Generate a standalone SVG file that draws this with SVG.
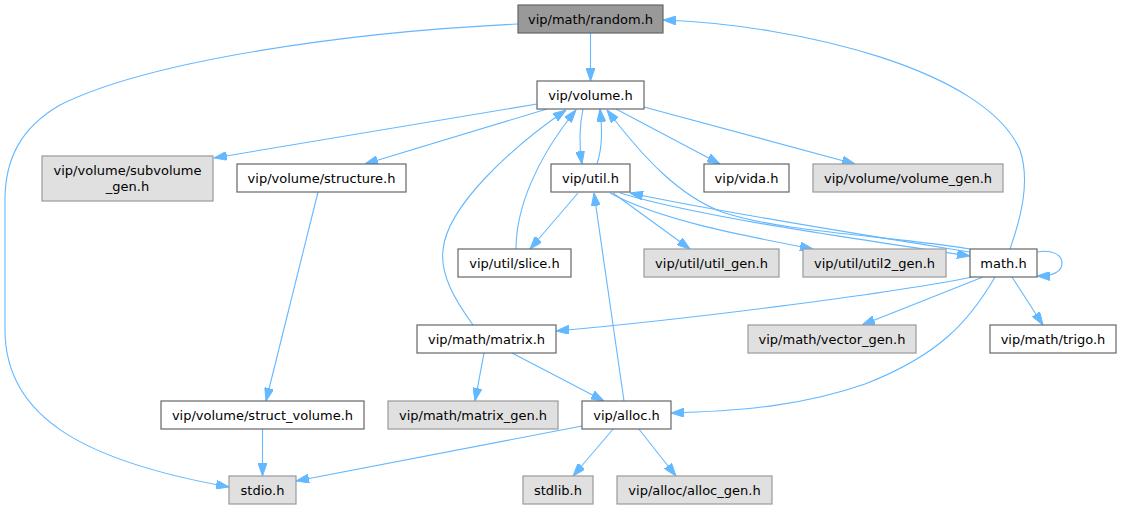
<svg xmlns="http://www.w3.org/2000/svg" width="1121" height="509" viewBox="0 0 1121 509">
<style>
.e{fill:none;stroke:#63b8ff;stroke-width:1.1;marker-end:url(#a)}
.w{fill:#ffffff;stroke:#666666;stroke-width:1.2}
.g{fill:#e0e0e0;stroke:#999999;stroke-width:1.2}
.c{fill:#999999;stroke:#666666;stroke-width:1.2}
text{font-family:"DejaVu Sans","Liberation Sans",sans-serif;font-size:13px;fill:#000000;text-anchor:middle}
</style>
<defs>
<marker id="a" viewBox="0 0 13 9" refX="13" refY="4.5" markerWidth="13" markerHeight="9" orient="auto" markerUnits="userSpaceOnUse">
<path d="M0,0 L13,4.5 L0,9 Z" fill="#63b8ff" stroke="#63b8ff" stroke-width="1"/>
</marker>
</defs>
<rect width="1121" height="509" fill="#ffffff"/>
<g id="edges">
<path class="e" d="M590.5,33 L590.5,81"/>
<path class="e" d="M518,24 C350,32 150,60 60,105 C20,128 5,160 5,200 L5,330 C5,420 90,462 229,487"/>
<path class="e" d="M1010,249 C1022,215 1030,180 1020,150 C985,70 800,25 663,20"/>
<path class="e" d="M537,104 L214,158"/>
<path class="e" d="M547,109 L365,164"/>
<path class="e" d="M583,109 C579,128 579,145 582,164"/>
<path class="e" d="M597,164 C603,145 602,128 600,109"/>
<path class="e" d="M616,109 L720,164"/>
<path class="e" d="M644,107 L855,164"/>
<path class="e" d="M578,193 L530,249"/>
<path class="e" d="M516,249 C516,210 535,160 576,110"/>
<path class="e" d="M473,325 C455,300 440,275 443,250 C447,205 515,145 566,110"/>
<path class="e" d="M970,249 C900,237 780,232 722,212 C680,196 645,160 607,110"/>
<path class="e" d="M613,193 L690,249"/>
<path class="e" d="M610,193 C660,220 740,235 813,249"/>
<path class="e" d="M620,193 C700,217 850,238 970,256"/>
<path class="e" d="M970,252 C870,236 730,214 630,193"/>
<path class="e" d="M1037,252 C1052,249 1062,255 1062,263 C1062,272 1052,276 1037,276"/>
<path class="e" d="M972,277 C900,292 700,318 556,331"/>
<path class="e" d="M983,277 L862,325"/>
<path class="e" d="M1012,277 L1043,325"/>
<path class="e" d="M995,277 C970,320 940,355 865,384 C805,405 745,411 671,413"/>
<path class="e" d="M484,353 L475,401"/>
<path class="e" d="M512,353 L604,401"/>
<path class="e" d="M624,401 L594,193"/>
<path class="e" d="M582,426 L296,481"/>
<path class="e" d="M614,428 L573,476"/>
<path class="e" d="M638,428 L676,476"/>
<path class="e" d="M318,192 L266,401"/>
<path class="e" d="M262.5,428 L262.5,476"/>
</g>
<g id="node-random"><rect class="c" x="518" y="5" width="145" height="28"/><text x="590.5" y="23.5">vip/math/random.h</text></g>
<g id="node-volume"><rect class="w" x="537" y="81" width="107" height="28"/><text x="590.5" y="99.5">vip/volume.h</text></g>
<g id="node-subvolume"><rect class="g" x="42" y="156" width="171" height="45"/><text x="127.5" y="175">vip/volume/subvolume</text><text x="127.5" y="191">_gen.h</text></g>
<g id="node-structure"><rect class="w" x="237" y="164" width="169" height="28"/><text x="321.5" y="182.5">vip/volume/structure.h</text></g>
<g id="node-util"><rect class="w" x="551" y="164" width="79" height="28"/><text x="590.5" y="182.5">vip/util.h</text></g>
<g id="node-vida"><rect class="w" x="704" y="164" width="85" height="28"/><text x="746.5" y="182.5">vip/vida.h</text></g>
<g id="node-volume-gen"><rect class="g" x="813" y="164" width="190" height="28"/><text x="908" y="182.5">vip/volume/volume_gen.h</text></g>
<g id="node-slice"><rect class="w" x="458" y="249" width="113" height="28"/><text x="514.5" y="267.5">vip/util/slice.h</text></g>
<g id="node-util-gen"><rect class="g" x="644" y="249" width="135" height="28"/><text x="711.5" y="267.5">vip/util/util_gen.h</text></g>
<g id="node-util2-gen"><rect class="g" x="803" y="249" width="143" height="28"/><text x="874.5" y="267.5">vip/util/util2_gen.h</text></g>
<g id="node-math"><rect class="w" x="970" y="249" width="67" height="28"/><text x="1003.5" y="267.5">math.h</text></g>
<g id="node-matrix"><rect class="w" x="417" y="325" width="139" height="28"/><text x="486.5" y="343.5">vip/math/matrix.h</text></g>
<g id="node-vector-gen"><rect class="g" x="748" y="325" width="168" height="28"/><text x="832" y="343.5">vip/math/vector_gen.h</text></g>
<g id="node-trigo"><rect class="w" x="990" y="325" width="126" height="28"/><text x="1053" y="343.5">vip/math/trigo.h</text></g>
<g id="node-struct-volume"><rect class="w" x="161" y="401" width="203" height="28"/><text x="262.5" y="419.5">vip/volume/struct_volume.h</text></g>
<g id="node-matrix-gen"><rect class="g" x="388" y="401" width="170" height="28"/><text x="473" y="419.5">vip/math/matrix_gen.h</text></g>
<g id="node-alloc"><rect class="w" x="582" y="401" width="89" height="28"/><text x="626.5" y="419.5">vip/alloc.h</text></g>
<g id="node-stdio"><rect class="g" x="229" y="476" width="67" height="28"/><text x="262.5" y="494.5">stdio.h</text></g>
<g id="node-stdlib"><rect class="g" x="523" y="476" width="70" height="28"/><text x="558" y="494.5">stdlib.h</text></g>
<g id="node-alloc-gen"><rect class="g" x="617" y="476" width="155" height="28"/><text x="694.5" y="494.5">vip/alloc/alloc_gen.h</text></g>
</svg>
